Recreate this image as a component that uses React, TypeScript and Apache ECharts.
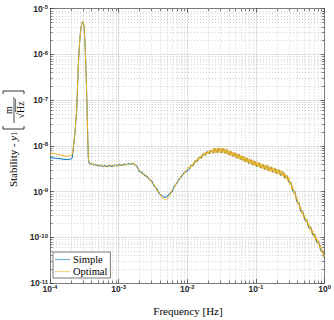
import React, { useEffect, useRef } from 'react';
import * as echarts from 'echarts';

// ---- data (frequency in Hz, stability in m/sqrt(Hz)) ----
const freqLow = [1.0e-4, 1.2e-4, 1.4e-4, 1.6e-4, 1.8e-4, 2.0e-4, 2.1e-4];
const simpleLow = [5.45e-9, 5.35e-9, 5.2e-9, 5.05e-9, 5.0e-9, 5.1e-9, 5.3e-9];
const optimalLow = [6.9e-9, 6.7e-9, 6.3e-9, 6.0e-9, 5.9e-9, 6.1e-9, 6.4e-9];

const freqPeak = [2.18e-4, 2.3e-4, 2.44e-4, 2.52e-4, 2.6e-4, 2.68e-4, 2.75e-4, 2.85e-4, 2.95e-4, 3.0e-4,
  3.07e-4, 3.15e-4, 3.22e-4, 3.28e-4, 3.33e-4, 3.4e-4, 3.47e-4, 3.55e-4, 3.62e-4, 3.7e-4];
const simplePeak = [8.5e-9, 1.8e-8, 5.6e-8, 2.0e-7, 6.8e-7, 1.5e-6, 2.6e-6, 4.1e-6, 5.0e-6, 5.2e-6,
  4.9e-6, 3.6e-6, 2.0e-6, 1.0e-6, 5.5e-7, 2.0e-7, 6.0e-8, 1.5e-8, 5.2e-9, 4.2e-9];
const optimalPeak = [9e-9, 1.8e-8, 5.6e-8, 2.0e-7, 6.8e-7, 1.5e-6, 2.6e-6, 4.1e-6, 5.0e-6, 5.2e-6,
  4.9e-6, 3.6e-6, 2.0e-6, 1.0e-6, 5.5e-7, 2.0e-7, 6.0e-8, 1.5e-8, 5.5e-9, 4.4e-9];

const freqPlateau = [3.8e-4, 4.0e-4, 4.3e-4, 4.6e-4, 5.0e-4, 5.4e-4, 5.8e-4, 6.3e-4, 6.8e-4, 7.4e-4, 8.0e-4,
  8.7e-4, 9.4e-4, 1.02e-3, 1.1e-3, 1.2e-3, 1.3e-3, 1.4e-3, 1.5e-3, 1.6e-3, 1.7e-3];
const simplePlateau = [4.0e-9, 4.1e-9, 3.8e-9, 3.9e-9, 3.6e-9, 3.8e-9, 3.5e-9, 3.7e-9, 3.5e-9, 3.7e-9, 3.5e-9,
  3.8e-9, 3.6e-9, 3.9e-9, 3.7e-9, 4.0e-9, 3.8e-9, 4.1e-9, 3.9e-9, 4.2e-9, 3.8e-9];
const optimalPlateau = [4.2e-9, 3.9e-9, 4.1e-9, 3.7e-9, 3.9e-9, 3.5e-9, 3.8e-9, 3.4e-9, 3.7e-9, 3.5e-9, 3.8e-9,
  3.5e-9, 3.9e-9, 3.6e-9, 3.9e-9, 3.7e-9, 4.0e-9, 3.8e-9, 4.2e-9, 3.9e-9, 4.1e-9];

const freqDip = [1.85e-3, 2.0e-3, 2.2e-3, 2.4e-3, 2.6e-3, 2.8e-3, 3.05e-3, 3.3e-3, 3.6e-3, 3.9e-3, 4.2e-3,
  4.5e-3, 4.8e-3, 5.2e-3, 5.6e-3, 6.0e-3, 6.5e-3, 7.0e-3, 7.6e-3, 8.2e-3, 8.9e-3, 9.6e-3];
const simpleDip = [3.6e-9, 2.7e-9, 2.65e-9, 2.2e-9, 2.18e-9, 1.8e-9, 1.7e-9, 1.28e-9, 1.18e-9, 8.9e-10, 8.4e-10,
  7.6e-10, 7.5e-10, 8.0e-10, 9.3e-10, 9.8e-10, 1.34e-9, 1.47e-9, 1.92e-9, 2.04e-9, 2.6e-9, 2.7e-9];
const optimalDip = [3.3e-9, 2.95e-9, 2.4e-9, 2.4e-9, 1.98e-9, 1.95e-9, 1.52e-9, 1.42e-9, 1.05e-9, 9.8e-10, 7.5e-10,
  7.0e-10, 6.5e-10, 7.2e-10, 8.3e-10, 1.09e-9, 1.2e-9, 1.62e-9, 1.75e-9, 2.24e-9, 2.38e-9, 2.92e-9];

// noisy high-frequency part, Simple (blue)
const freqHighSimple = [1.07e-2, 1.144e-2, 1.223e-2, 1.307e-2, 1.397e-2, 1.494e-2, 1.597e-2, 1.707e-2, 1.825e-2, 1.951e-2,
  2.085e-2, 2.229e-2, 2.383e-2, 2.547e-2, 2.723e-2, 2.911e-2, 3.112e-2, 3.327e-2, 3.556e-2, 3.802e-2,
  4.064e-2, 4.344e-2, 4.644e-2, 4.964e-2, 5.307e-2, 5.673e-2, 6.065e-2, 6.483e-2, 6.930e-2, 7.409e-2,
  7.920e-2, 8.466e-2, 9.050e-2, 9.675e-2, 0.1034, 0.1106, 0.1182, 0.1264, 0.1351, 0.1444,
  0.1544, 0.1650, 0.1764, 0.1886, 0.2016, 0.2155, 0.2304, 0.2463, 0.2633, 0.2814,
  0.3009, 0.3216, 0.3438, 0.3676, 0.3929, 0.4200, 0.4490, 0.4800, 0.5131, 0.5485,
  0.5864, 0.6269, 0.6701, 0.7164, 0.7658, 0.8186, 0.8751, 0.9355, 1.0];
const simpleHigh = [3.04e-9, 3.80e-9, 3.67e-9, 4.67e-9, 4.53e-9, 5.69e-9, 5.36e-9, 6.78e-9, 6.14e-9, 7.53e-9,
  6.61e-9, 8.07e-9, 6.95e-9, 8.75e-9, 7.06e-9, 8.92e-9, 6.99e-9, 8.70e-9, 6.82e-9, 8.20e-9,
  6.26e-9, 7.57e-9, 5.81e-9, 7.02e-9, 5.34e-9, 6.48e-9, 4.93e-9, 5.90e-9, 4.46e-9, 5.42e-9,
  4.08e-9, 4.95e-9, 3.77e-9, 4.57e-9, 3.49e-9, 4.26e-9, 3.23e-9, 3.96e-9, 3.01e-9, 3.69e-9,
  2.81e-9, 3.44e-9, 2.62e-9, 3.21e-9, 2.44e-9, 2.99e-9, 2.24e-9, 2.71e-9, 1.97e-9, 2.24e-9,
  1.59e-9, 1.61e-9, 1.02e-9, 1.01e-9, 6.04e-10, 5.77e-10, 3.67e-10, 3.72e-10, 2.39e-10, 2.47e-10,
  1.60e-10, 1.69e-10, 1.12e-10, 1.18e-10, 7.81e-11, 8.25e-11, 5.16e-11, 5.18e-11, 3.40e-11];

// noisy high-frequency part, Optimal (orange), sampled more densely
const freqHighOptimal = [
  1.07e-2, 1.106e-2, 1.144e-2, 1.183e-2, 1.223e-2, 1.265e-2, 1.307e-2, 1.351e-2, 1.397e-2, 1.444e-2,
  1.494e-2, 1.545e-2, 1.597e-2, 1.651e-2, 1.707e-2, 1.765e-2, 1.825e-2, 1.887e-2, 1.951e-2, 2.017e-2,
  2.085e-2, 2.156e-2, 2.229e-2, 2.305e-2, 2.383e-2, 2.464e-2, 2.547e-2, 2.633e-2, 2.723e-2, 2.815e-2,
  2.911e-2, 3.010e-2, 3.112e-2, 3.218e-2, 3.327e-2, 3.440e-2, 3.556e-2, 3.677e-2, 3.802e-2, 3.931e-2,
  4.064e-2, 4.202e-2, 4.344e-2, 4.491e-2, 4.644e-2, 4.802e-2, 4.964e-2, 5.132e-2, 5.307e-2, 5.487e-2,
  5.673e-2, 5.866e-2, 6.065e-2, 6.271e-2, 6.483e-2, 6.703e-2, 6.930e-2, 7.165e-2, 7.409e-2, 7.660e-2,
  7.920e-2, 8.189e-2, 8.466e-2, 8.753e-2, 9.050e-2, 9.357e-2, 9.675e-2, 0.1000, 0.1034, 0.1069,
  0.1106, 0.1144, 0.1182, 0.1222, 0.1264, 0.1307, 0.1351, 0.1397, 0.1444, 0.1493,
  0.1544, 0.1596, 0.1650, 0.1706, 0.1764, 0.1824, 0.1886, 0.1950, 0.2016, 0.2084,
  0.2155, 0.2228, 0.2304, 0.2382, 0.2463, 0.2547, 0.2633, 0.2722, 0.2814, 0.2910,
  0.3009, 0.3111, 0.3216, 0.3325, 0.3438, 0.3555, 0.3676, 0.3801, 0.3929, 0.4062,
  0.4200, 0.4343, 0.4490, 0.4642, 0.4800, 0.4963, 0.5131, 0.5305, 0.5485, 0.5671,
  0.5864, 0.6063, 0.6269, 0.6482, 0.6701, 0.6928, 0.7164, 0.7407, 0.7658, 0.7918,
  0.8186, 0.8464, 0.8751, 0.9048, 0.9355, 0.9672, 1.0];
const optimalHigh = [
  3.51e-9, 3.18e-9, 3.88e-9, 3.51e-9, 4.29e-9, 3.88e-9, 4.74e-9, 4.29e-9, 5.23e-9, 4.74e-9,
  5.78e-9, 5.18e-9, 6.26e-9, 5.61e-9, 6.78e-9, 6.02e-9, 7.20e-9, 6.32e-9, 7.49e-9, 6.58e-9,
  7.80e-9, 6.82e-9, 8.04e-9, 7.02e-9, 8.66e-9, 6.88e-9, 8.83e-9, 6.99e-9, 8.92e-9, 7.06e-9,
  9.01e-9, 7.06e-9, 8.92e-9, 6.99e-9, 8.83e-9, 6.88e-9, 8.62e-9, 6.65e-9, 8.28e-9, 6.39e-9,
  7.95e-9, 6.14e-9, 7.64e-9, 5.90e-9, 7.35e-9, 5.67e-9, 7.06e-9, 5.45e-9, 6.78e-9, 5.23e-9,
  6.52e-9, 5.00e-9, 6.23e-9, 4.78e-9, 5.96e-9, 4.57e-9, 5.69e-9, 4.37e-9, 5.45e-9, 4.18e-9,
  5.21e-9, 4.02e-9, 5.00e-9, 3.86e-9, 4.81e-9, 3.71e-9, 4.62e-9, 3.56e-9, 4.44e-9, 3.43e-9,
  4.26e-9, 3.29e-9, 4.12e-9, 3.18e-9, 3.98e-9, 3.07e-9, 3.84e-9, 2.96e-9, 3.71e-9, 2.86e-9,
  3.58e-9, 2.76e-9, 3.46e-9, 2.67e-9, 3.34e-9, 2.58e-9, 3.23e-9, 2.49e-9, 3.11e-9, 2.40e-9,
  3.01e-9, 2.31e-9, 2.86e-9, 2.20e-9, 2.72e-9, 2.06e-9, 2.51e-9, 1.87e-9, 2.25e-9, 1.68e-9,
  2.02e-9, 1.42e-9, 1.62e-9, 1.14e-9, 1.30e-9, 9.04e-10, 1.01e-9, 6.94e-10, 7.67e-10, 5.25e-10,
  5.80e-10, 4.09e-10, 4.66e-10, 3.29e-10, 3.74e-10, 2.65e-10, 3.03e-10, 2.16e-10, 2.49e-10, 1.77e-10,
  2.04e-10, 1.47e-10, 1.70e-10, 1.22e-10, 1.42e-10, 1.02e-10, 1.19e-10, 8.55e-11, 9.93e-11, 7.14e-11,
  8.30e-11, 5.82e-11, 6.56e-11, 4.61e-11, 5.22e-11, 3.64e-11, 4.05e-11];

const seriesNames = ['Simple', 'Optimal'];
const seriesColors = ['#0072BD', '#EDB120'];

const freqSimple = [...freqLow, ...freqPeak, ...freqPlateau, ...freqDip, ...freqHighSimple];
const simple = [...simpleLow, ...simplePeak, ...simplePlateau, ...simpleDip, ...simpleHigh];
const freqOptimal = [...freqLow, ...freqPeak, ...freqPlateau, ...freqDip, ...freqHighOptimal];
const optimal = [...optimalLow, ...optimalPeak, ...optimalPlateau, ...optimalDip, ...optimalHigh];

// axis structure
const xMin = 1e-4, xMax = 1;
const yMin = 1e-11, yMax = 1e-5;
const minorMults = [2, 3, 4, 5, 6, 7, 8, 9];
const xMinor: number[] = [];
for (let e = -4; e < 0; e++) for (const m of minorMults) xMinor.push(m * Math.pow(10, e));
const yMinor: number[] = [];
for (let e = -11; e < -5; e++) for (const m of minorMults) yMinor.push(m * Math.pow(10, e));

const SERIF = '"Liberation Serif", "DejaVu Serif", serif';
const SANS = '"Liberation Sans", Arial, sans-serif';
const AX = '#262626';

const tickRich = {
  b: { fontSize: 8.5, fontWeight: 'bold', fontFamily: SANS, color: AX, lineHeight: 9, padding: [4, 0, 0, 0], verticalAlign: 'bottom' },
  e: { fontSize: 6, fontWeight: 'bold', fontFamily: SANS, color: AX, lineHeight: 7, verticalAlign: 'top' },
};
const expFormatter = (v: number) => `{b|10}{e|${Math.round(Math.log10(v))}}`;

export default function App() {
  const ref = useRef<HTMLDivElement>(null);
  useEffect(() => {
    if (!ref.current) return;
    const chart = echarts.init(ref.current, undefined, { renderer: 'svg' });

    const renderXMinor = (params: any, api: any) => {
      const cs = params.coordSys;
      const px = Math.round(api.coord([api.value(0), api.value(1)])[0]) + 0.5;
      const top = cs.y, bot = cs.y + cs.height;
      return {
        type: 'group', children: [
          { type: 'line', shape: { x1: px, y1: top, x2: px, y2: bot }, style: { stroke: '#d2d2d2', lineWidth: 1, lineDash: [1, 2] } },
          { type: 'line', shape: { x1: px, y1: bot, x2: px, y2: bot - 2.5 }, style: { stroke: '#555', lineWidth: 0.8 } },
          { type: 'line', shape: { x1: px, y1: top, x2: px, y2: top + 2.5 }, style: { stroke: '#555', lineWidth: 0.8 } },
        ],
      };
    };
    const renderYMinor = (params: any, api: any) => {
      const cs = params.coordSys;
      const py = Math.round(api.coord([api.value(0), api.value(1)])[1]) + 0.5;
      const l = cs.x, r = cs.x + cs.width;
      return {
        type: 'group', children: [
          { type: 'line', shape: { x1: l, y1: py, x2: r, y2: py }, style: { stroke: '#d2d2d2', lineWidth: 1, lineDash: [1, 2] } },
          { type: 'line', shape: { x1: l, y1: py, x2: l + 2.5, y2: py }, style: { stroke: '#555', lineWidth: 0.8 } },
          { type: 'line', shape: { x1: r, y1: py, x2: r - 2.5, y2: py }, style: { stroke: '#555', lineWidth: 0.8 } },
        ],
      };
    };

    const baseAxis = {
      type: 'log' as const,
      logBase: 10,
      axisLine: { show: true, onZero: false, lineStyle: { color: '#7a7a7a', width: 1 } },
      axisTick: { show: true, inside: true, length: 4, lineStyle: { color: '#444', width: 0.8 } },
    };

    chart.setOption({
      animation: false,
      backgroundColor: '#ffffff',
      grid: { left: 50, right: 8, top: 6, bottom: 37, containLabel: false },
      xAxis: [
        {
          ...baseAxis, position: 'bottom', min: xMin, max: xMax, splitNumber: 4,
          axisLabel: { margin: 1, formatter: expFormatter, rich: tickRich },
          splitLine: { show: true, lineStyle: { color: '#e0e0e0', width: 1 } },
        },
        {
          ...baseAxis, position: 'top', min: xMin, max: xMax, splitNumber: 4,
          axisLabel: { show: false }, splitLine: { show: false },
        },
      ],
      yAxis: [
        {
          ...baseAxis, position: 'left', min: yMin, max: yMax, splitNumber: 6,
          axisLabel: { margin: 2, formatter: expFormatter, rich: tickRich },
          splitLine: { show: true, lineStyle: { color: '#e0e0e0', width: 1 } },
        },
        {
          ...baseAxis, position: 'right', min: yMin, max: yMax, splitNumber: 6,
          axisLabel: { show: false }, splitLine: { show: false },
        },
      ],
      legend: {
        data: seriesNames,
        left: 53, top: 252, orient: 'vertical',
        icon: 'rect', itemWidth: 15, itemHeight: 1.2,
        itemStyle: { opacity: 0.55 },
        backgroundColor: '#ffffff', borderColor: '#7a7a7a', borderWidth: 1, borderRadius: 0,
        padding: [2, 3, 1, 2], itemGap: 1,
        textStyle: { fontFamily: SERIF, fontSize: 10.5, color: '#000', lineHeight: 11, padding: [0, 0, 0, -2] },
      },
      series: [
        { type: 'custom', name: 'xminor', silent: true, z: 1, xAxisIndex: 0, yAxisIndex: 0, renderItem: renderXMinor, data: xMinor.map((v) => [v, 1e-8]) },
        { type: 'custom', name: 'yminor', silent: true, z: 1, xAxisIndex: 0, yAxisIndex: 0, renderItem: renderYMinor, data: yMinor.map((v) => [1e-2, v]) },
        {
          type: 'line', name: seriesNames[0], xAxisIndex: 0, yAxisIndex: 0, z: 3,
          data: freqSimple.map((f, i) => [f, simple[i]]), showSymbol: false, symbol: 'none',
          lineStyle: { color: seriesColors[0], width: 1 }, itemStyle: { color: seriesColors[0] },
        },
        {
          type: 'line', name: seriesNames[1], xAxisIndex: 0, yAxisIndex: 0, z: 4,
          data: freqOptimal.map((f, i) => [f, optimal[i]]), showSymbol: false, symbol: 'none',
          lineStyle: { color: seriesColors[1], width: 1 }, itemStyle: { color: seriesColors[1] },
        },
      ],
      graphic: [
        {
          type: 'text', x: 188, y: 311,
          style: { text: 'Frequency [Hz]', font: `11px ${SERIF}`, fill: '#000', align: 'center', verticalAlign: 'middle', textAlign: 'center', textVerticalAlign: 'middle' },
        },
        {
          type: 'group', x: 13, y: 129, rotation: Math.PI / 2,
          children: [
            {
              type: 'text', x: -3, y: 0,
              style: {
                text: '{n|Stability - }{i|y}{s|1}', align: 'right', verticalAlign: 'middle', textAlign: 'right', textVerticalAlign: 'middle',
                rich: {
                  n: { fontFamily: SERIF, fontSize: 11, lineHeight: 11, verticalAlign: 'top', fill: '#000', color: '#000' },
                  i: { fontFamily: SERIF, fontSize: 11, fontStyle: 'italic', lineHeight: 11, verticalAlign: 'top', fill: '#000', color: '#000' },
                  s: { fontFamily: SERIF, fontSize: 7.5, lineHeight: 8, verticalAlign: 'bottom', fill: '#000', color: '#000' },
                },
              },
            },
            { type: 'polyline', shape: { points: [[3, -10], [0, -10], [0, 11], [3, 11]] }, style: { stroke: '#000', lineWidth: 0.8, fill: 'none' } },
            { type: 'text', x: 19, y: -4.5, style: { text: 'm', font: `10px ${SERIF}`, fill: '#000', align: 'center', verticalAlign: 'middle', textAlign: 'center', textVerticalAlign: 'middle' } },
            { type: 'line', shape: { x1: 6, y1: 1, x2: 32, y2: 1 }, style: { stroke: '#000', lineWidth: 0.7 } },
            { type: 'text', x: 19, y: 7, style: { text: '√Hz', font: `10px ${SERIF}`, fill: '#000', align: 'center', verticalAlign: 'middle', textAlign: 'center', textVerticalAlign: 'middle' } },
            { type: 'line', shape: { x1: 17, y1: 2.6, x2: 30, y2: 2.6 }, style: { stroke: '#000', lineWidth: 0.6 } },
            { type: 'polyline', shape: { points: [[35, -10], [38, -10], [38, 11], [35, 11]] }, style: { stroke: '#000', lineWidth: 0.8, fill: 'none' } },
          ],
        },
      ],
    });
    return () => chart.dispose();
  }, []);
  return <div ref={ref} style={{ position: 'fixed', left: 0, top: 0, width: 334, height: 320, background: '#fff' }} />;
}
